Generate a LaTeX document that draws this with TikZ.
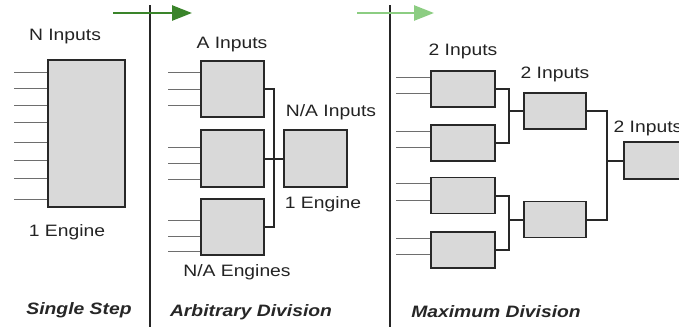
\documentclass[tikz,border=0pt]{standalone}
\usepackage{fontspec}
\setmainfont{Liberation Sans}[FakeStretch=1.17]
\usetikzlibrary{arrows.meta,calc}
\definecolor{boxfill}{RGB}{217,217,217}
\definecolor{boxline}{RGB}{40,40,40}
\definecolor{inline}{RGB}{110,110,110}
\definecolor{txt}{RGB}{35,35,35}
\definecolor{darkgreen}{RGB}{58,132,42}
\definecolor{lightgreen}{RGB}{140,205,130}
\tikzset{
  engine/.style={draw=boxline, fill=boxfill, line width=1.8pt, inner sep=0pt, rectangle},
  feed/.style={draw=inline, line width=1pt},
  wire/.style={draw=boxline, line width=2pt},
  divider/.style={draw=black!85, line width=1.6pt},
  lbl/.style={text=txt, font=\fontsize{16.5}{18}\selectfont, inner sep=0pt},
  title/.style={text=black!85, font=\fontsize{16.5}{18}\selectfont\bfseries\itshape, inner sep=0pt},
  flow/.style={line width=2.6pt, -{Triangle[length=20pt,width=15pt]}}
}
\begin{document}
\begin{tikzpicture}[x=1pt,y=-1pt]
\useasboundingbox (0,0) rectangle (679,327);
\clip (0,0) rectangle (679,327);

% column dividers
\coordinate (d1t) at (150,5);  \coordinate (d1b) at (150,327);
\coordinate (d2t) at (390,5);  \coordinate (d2b) at (390,327);
\draw[divider] (d1t) -- (d1b);
\draw[divider] (d2t) -- (d2b);

% progress arrows along the top
\coordinate (g1s) at (113,13); \coordinate (g1e) at (192,13);
\coordinate (g2s) at (357,13); \coordinate (g2e) at (434,13);
\draw[flow, draw=darkgreen, fill=darkgreen] (g1s) -- (g1e);
\draw[flow, draw=lightgreen, fill=lightgreen] (g2s) -- (g2e);

% ---------- single step ----------
\node[engine, minimum width=77pt, minimum height=147pt] (S) at (86.5,133.5) {};
\foreach \y [count=\i] in {72,88,105,122,142,160,178,199}{
  \coordinate (si\i) at (14,\y);
  \draw[feed] (si\i) -- (si\i -| S.west);
}
\node[lbl] (sIn) at (65,37) {N Inputs};
\node[lbl] (sEng) at (67,232) {1 Engine};
\node[title] (sT) at (79,310) {Single Step};

% ---------- arbitrary division ----------
\node[engine, minimum width=63pt, minimum height=56pt] (A1) at (232.5,89) {};
\node[engine, minimum width=63pt, minimum height=57pt] (A2) at (232.5,158.5) {};
\node[engine, minimum width=63pt, minimum height=56pt] (A3) at (232.5,227) {};
\node[engine, minimum width=63pt, minimum height=57pt] (E) at (315.5,158.5) {};
\foreach \y [count=\i] in {72,89,105}{
  \coordinate (a1i\i) at (168,\y); \draw[feed] (a1i\i) -- (a1i\i -| A1.west);}
\foreach \y [count=\i] in {147,163,179}{
  \coordinate (a2i\i) at (168,\y); \draw[feed] (a2i\i) -- (a2i\i -| A2.west);}
\foreach \y [count=\i] in {220,236,251}{
  \coordinate (a3i\i) at (168,\y); \draw[feed] (a3i\i) -- (a3i\i -| A3.west);}
\coordinate (abus) at (274,0);
\draw[wire] (A1.east) -| (abus |- A3.east) -- (A3.east);
\draw[wire] (A2.east) -- (E.west);
\node[lbl] (aIn) at (232,45) {A Inputs};
\node[lbl] (naIn) at (331,112) {N/A Inputs};
\node[lbl] (aEng) at (323,204) {1 Engine};
\node[lbl] (naEng) at (237,272) {N/A Engines};
\node[title] (aT) at (251,312) {Arbitrary Division};

% ---------- maximum division ----------
\node[engine, minimum width=64pt, minimum height=36pt] (B1) at (463,89) {};
\node[engine, minimum width=64pt, minimum height=36pt] (B2) at (463,143) {};
\node[engine, minimum width=64pt, minimum height=36pt] (B3) at (463,195.5) {};
\node[engine, minimum width=64pt, minimum height=36pt] (B4) at (463,250) {};
\node[engine, minimum width=62pt, minimum height=36pt] (C1) at (555,111) {};
\node[engine, minimum width=62pt, minimum height=36pt] (C2) at (555,219.5) {};
\node[engine, minimum width=62pt, minimum height=37pt] (D) at (655,160.5) {};
\foreach \b in {B1,B2,B3,B4}{
  \draw[feed] ($(\b.west)+(-34,-12)$) -- ([yshift=12pt]\b.west);
  \draw[feed] ($(\b.west)+(-34,4.5)$) -- ([yshift=-4.5pt]\b.west);
}
\coordinate (bbus) at (509,0);
\coordinate (cbus) at (607,0);
\draw[wire] (B1.east) -| (bbus |- B2.east) -- (B2.east);
\draw[wire] (C1.west) -- (C1.west -| bbus);
\draw[wire] (B3.east) -| (bbus |- B4.east) -- (B4.east);
\draw[wire] (C2.west) -- (C2.west -| bbus);
\draw[wire] (C1.east) -| (cbus |- C2.east) -- (C2.east);
\draw[wire] (D.west) -- (D.west -| cbus);
\node[lbl] (bIn) at (463,51) {2 Inputs};
\node[lbl] (cIn) at (555,74) {2 Inputs};
\node[lbl] (dIn) at (648,128) {2 Inputs};
\node[title] (bT) at (496,312) {Maximum Division};
\end{tikzpicture}
\end{document}
